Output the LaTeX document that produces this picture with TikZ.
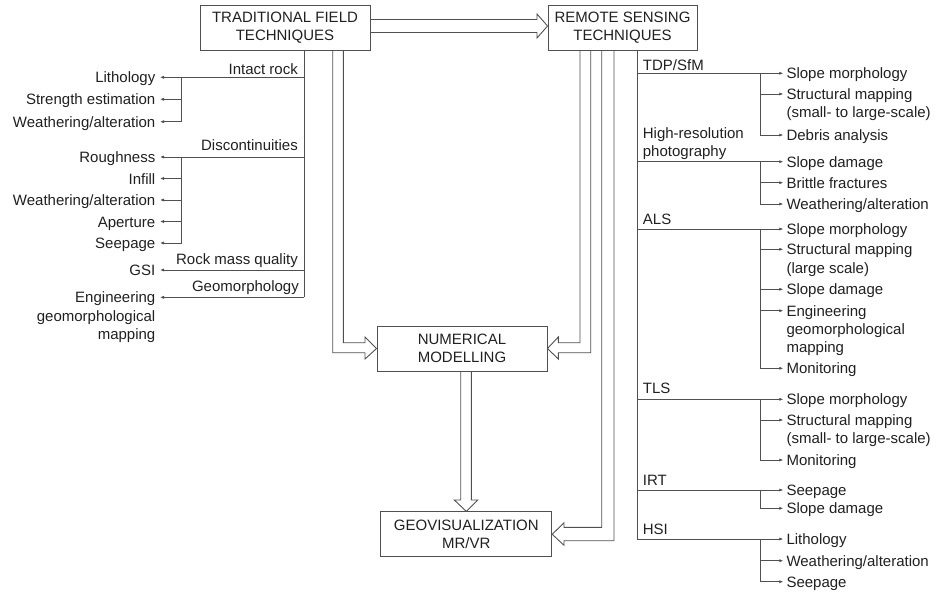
\documentclass[tikz,border=0pt]{standalone}
\usepackage{fontspec}
\setmainfont{Liberation Sans}
\usetikzlibrary{arrows.meta}
\definecolor{lc}{HTML}{505050}
\definecolor{tc}{HTML}{202020}
\newcommand\lab{\fontsize{15}{18.3}\selectfont}
\newcommand\boxf{\fontsize{15}{18}\selectfont}
\newcommand\mlt[2][l]{\begin{tabular}[t]{@{}#1@{}}#2\end{tabular}}
\newcommand\mlb[2][l]{\begin{tabular}[b]{@{}#1@{}}#2\end{tabular}}
\begin{document}
\begin{tikzpicture}[x=1pt,y=-1pt,
  box/.style={draw=lc, line width=0.9pt, minimum height=45pt, align=center, font=\boxf, text=tc, inner sep=2pt},
  hol/.style={draw=lc, line width=0.9pt, line join=miter},
  br/.style={draw=lc, line width=0.9pt},
  tip/.style={br, -{Latex[length=4pt,width=3.2pt]}},
  itemR/.style={anchor=west, inner xsep=3pt, inner ysep=0pt, text height=11pt, text depth=0pt, font=\lab, text=tc},
  itemL/.style={anchor=east, inner xsep=4.5pt, inner ysep=0pt, text height=11pt, text depth=0pt, font=\lab, text=tc},
  grpR/.style={anchor=base west, inner sep=0pt, font=\lab, text=tc},
  grpL/.style={anchor=base east, inner sep=0pt, font=\lab, text=tc}]
\useasboundingbox (0,0) rectangle (939,592);

% boxes
\node[box, minimum width=170pt] (trad) at (285,27.5) {TRADITIONAL FIELD\\TECHNIQUES};
\node[box, minimum width=149pt] (rs) at (622.5,27.5) {REMOTE SENSING\\TECHNIQUES};
\node[box, minimum width=170pt] (num) at (462,348.5) {NUMERICAL\\MODELLING};
\node[box, minimum width=171pt] (geo) at (466.3,534.3) {GEOVISUALIZATION\\MR/VR};

% hollow arrows
\draw[hol] ([yshift=8pt]trad.east) -- (537,19.5) -- (537,14) -- ([yshift=1.5pt]rs.west)
  -- (537,38) -- (537,32.5) -- ([yshift=-5pt]trad.east);
\draw[hol] ([xshift=47.7pt]trad.south) -- (332.7,352.7) -- (365,352.7) -- (365,359)
  -- (num.west) -- (365,337) -- (365,342.7) -- (343.3,342.7) -- ([xshift=58.3pt]trad.south);
\draw[hol] ([xshift=-42.5pt]rs.south) -- (580,342.7) -- (558.3,342.7) -- (558.3,337)
  -- (num.east) -- (558.3,359) -- (558.3,352.7) -- (590.7,352.7) -- ([xshift=-31.8pt]rs.south);
\draw[hol] ([xshift=-20.8pt]rs.south) -- (601.7,527.3) -- (564,527.3) -- (564,522.7)
  -- (geo.east) -- (564,545.3) -- (564,540.7) -- (614,540.7) -- ([xshift=-8.5pt]rs.south);
\draw[hol] ([xshift=-1.3pt]num.south) -- (460.7,500) -- (454.3,500) -- (geo.north)
  -- (477.7,500) -- (471.3,500) -- ([xshift=9.3pt]num.south);

% left tree
\draw[br] ([xshift=19.3pt]trad.south) -- (304.3,297.3);
\node[grpL] (g1) at (298,74) {Intact rock};
\node[grpL] (g2) at (298,150.5) {Discontinuities};
\node[grpL] (g3) at (298,264) {Rock mass quality};
\node[grpL] (g4) at (299,291.5) {Geomorphology};

\node[itemL] (l1) at (160,77.3) {Lithology};
\node[itemL] (l2) at (160,99.3) {Strength estimation};
\node[itemL] (l3) at (160,121.7) {Weathering/alteration};
\node[itemL] (l4) at (160,157) {Roughness};
\node[itemL] (l5) at (160,178.5) {Infill};
\node[itemL] (l6) at (160,200) {Weathering/alteration};
\node[itemL] (l7) at (160,221.5) {Aperture};
\node[itemL] (l8) at (160,243) {Seepage};
\node[itemL] (l9) at (160,270) {GSI};
\node[itemL] (l10) at (160,297.3) {\mlt[r]{Engineering\\geomorphological\\mapping}};

\draw[tip] (304.3,77.3) -- (l1.east);
\draw[tip] (181.7,77.3) |- (l2.east);
\draw[tip] (181.7,77.3) |- (l3.east);
\draw[tip] (304.3,157) -- (l4.east);
\draw[tip] (181.7,157) |- (l5.east);
\draw[tip] (181.7,157) |- (l6.east);
\draw[tip] (181.7,157) |- (l7.east);
\draw[tip] (181.7,157) |- (l8.east);
\draw[tip] (304.3,270) -- (l9.east);
\draw[tip] (304.3,297.3) -- (l10.east);

% right tree
\draw[br] ([xshift=14.5pt]rs.south) -- (637,539);
\node[grpR] (h1) at (642.7,70) {TDP/SfM};
\node[grpR] (h2) at (642.7,156.5) {\mlb{High-resolution\\photography}};
\node[grpR] (h3) at (642.7,224.5) {ALS};
\node[grpR] (h4) at (642.7,393.5) {TLS};
\node[grpR] (h5) at (642.7,485.5) {IRT};
\node[grpR] (h6) at (642.7,534.5) {HSI};

\node[itemR] (r1) at (783.3,73.3) {Slope morphology};
\node[itemR] (r2) at (783.3,94) {\mlt{Structural mapping\\(small- to large-scale)}};
\node[itemR] (r3) at (783.3,135) {Debris analysis};
\node[itemR] (r4) at (783.3,161.7) {Slope damage};
\node[itemR] (r5) at (783.3,182.7) {Brittle fractures};
\node[itemR] (r6) at (783.3,204) {Weathering/alteration};
\node[itemR] (r7) at (783.3,229) {Slope morphology};
\node[itemR] (r8) at (783.3,249.3) {\mlt{Structural mapping\\(large scale)}};
\node[itemR] (r9) at (783.3,289.3) {Slope damage};
\node[itemR] (r10) at (783.3,310.7) {\mlt{Engineering\\geomorphological\\mapping}};
\node[itemR] (r11) at (783.3,368.3) {Monitoring};
\node[itemR] (r12) at (783.3,399.3) {Slope morphology};
\node[itemR] (r13) at (783.3,420) {\mlt{Structural mapping\\(small- to large-scale)}};
\node[itemR] (r14) at (783.3,460) {Monitoring};
\node[itemR] (r15) at (783.3,490) {Seepage};
\node[itemR] (r16) at (783.3,508.3) {Slope damage};
\node[itemR] (r17) at (783.3,539) {Lithology};
\node[itemR] (r18) at (783.3,560.7) {Weathering/alteration};
\node[itemR] (r19) at (783.3,581.7) {Seepage};

\draw[tip] (637,73.3) -- (r1.west);
\draw[tip] (760,73.3) |- (r2.west);
\draw[tip] (760,73.3) |- (r3.west);
\draw[tip] (637,161.7) -- (r4.west);
\draw[tip] (760,161.7) |- (r5.west);
\draw[tip] (760,161.7) |- (r6.west);
\draw[tip] (637,229) -- (r7.west);
\draw[tip] (760,229) |- (r8.west);
\draw[tip] (760,229) |- (r9.west);
\draw[tip] (760,229) |- (r10.west);
\draw[tip] (760,229) |- (r11.west);
\draw[tip] (637,399.3) -- (r12.west);
\draw[tip] (760,399.3) |- (r13.west);
\draw[tip] (760,399.3) |- (r14.west);
\draw[tip] (637,490) -- (r15.west);
\draw[tip] (760,490) |- (r16.west);
\draw[tip] (637,539) -- (r17.west);
\draw[tip] (760,539) |- (r18.west);
\draw[tip] (760,539) |- (r19.west);
\end{tikzpicture}
\end{document}
